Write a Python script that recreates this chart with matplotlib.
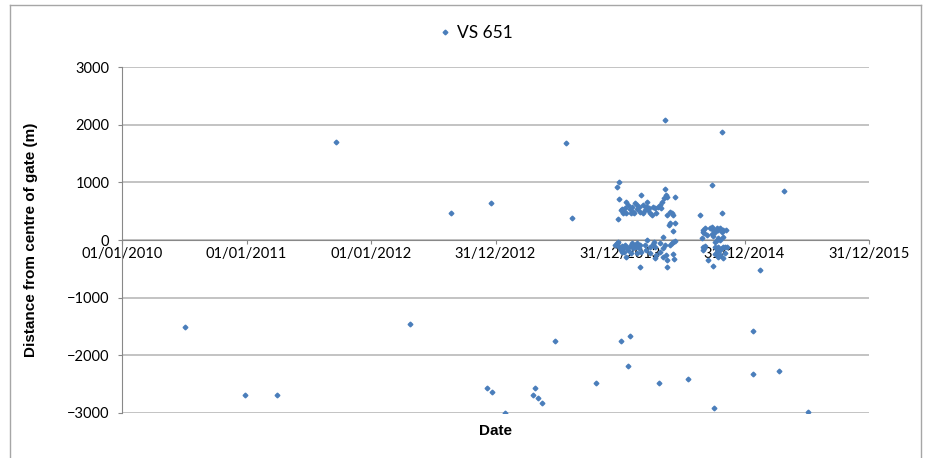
import datetime as dt
import numpy as np
import matplotlib.pyplot as plt
from matplotlib.lines import Line2D
from matplotlib.ticker import FuncFormatter, MultipleLocator

# dates are Excel serial day numbers (40179 = 01/01/2010)
scatter_day = [40363, 40540, 40634, 40806, 41023, 41144, 41250, 41263, 41261, 41301,
               41385, 41389, 41400, 41410, 41447, 41482, 41499, 41568, 41641, 41668,
               41662, 41753, 41772, 41838, 41916, 41938, 42028, 42028, 42049, 42105,
               42120, 42190]
scatter_dist = [-1510, -2690, -2690, 1700, -1450, 470, -2560, -2630, 640, -3000,
                -2690, -2560, -2745, -2820, -1750, 1675, 375, -2475, -1750, -1670,
                -2185, -2475, 2075, -2415, -2915, 1865, -2320, -1585, -525, -2265,
                850, -2975]

upper_day = [41636, 41631, 41636, 41634, 41658, 41663, 41646, 41649, 41654, 41668,
             41673, 41678, 41683, 41688, 41690, 41695, 41698, 41702, 41707, 41712,
             41717, 41719, 41722, 41727, 41732, 41737, 41741, 41746, 41751, 41756,
             41759, 41763, 41768, 41772, 41774, 41776, 41778, 41785, 41790, 41795,
             41799, 41801, 41785, 41783, 41793, 41766, 41671, 41647, 41643, 41658,
             41681, 41705, 41715, 41725]
upper_dist = [1000, 913, 705, 358, 664, 607, 532, 491, 549, 532,
              578, 491, 636, 607, 532, 578, 491, 780, 607, 520,
              664, 566, 520, 462, 433, 578, 549, 462, 578, 607,
              549, 664, 722, 878, 780, 751, 433, 491, 462, 433,
              751, 300, 289, 260, 162, 58, 474, 474, 520, 462,
              462, 462, 578, 549]

lower_day = [41624, 41629, 41634, 41637, 41641, 41644, 41649, 41644, 41654, 41658,
             41663, 41668, 41673, 41678, 41683, 41686, 41690, 41693, 41696, 41698,
             41699, 41702, 41712, 41715, 41727, 41737, 41740, 41741, 41746, 41741,
             41756, 41766, 41771, 41774, 41776, 41778, 41785, 41790, 41795, 41800,
             41795, 41798, 41766, 41756, 41688, 41658, 41652, 41670, 41727, 41717]
lower_dist = [-87, -58, -29, -127, -174, -104, -145, -203, -87, -127,
              -174, -104, -58, -145, -87, -127, -46, -104, -145, -87,
              -463, -203, -87, -174, -231, -70, -29, -116, -260, -318,
              -58, -145, -87, -260, -347, -463, -87, -58, -29, -18,
              -243, -335, -289, -203, -231, -289, -203, -231, -116, 0]

late_day = [41874, 41908, 41938, 41883, 41888, 41881, 41885, 41893, 41903, 41908,
            41912, 41917, 41922, 41927, 41932, 41937, 41942, 41950, 41908, 41912,
            41922, 41917, 41927, 41942, 41932, 41880, 41883, 41881, 41885, 41888,
            41917, 41922, 41927, 41932, 41937, 41942, 41947, 41952, 41922, 41917,
            41927, 41932, 41947, 41912, 41942, 41898]
late_dist = [428, 953, 474, 173, 202, 144, 115, 86, 202, 231,
             173, 144, 202, 173, 202, 144, 173, 173, 104, 69,
             0, -29, 29, 58, 0, 29, -127, -174, -145, -104,
             -127, -162, -127, -174, -145, -116, -127, -127, -203, -243,
             -289, -260, -231, -451, -318, -347]

day = np.array(scatter_day + upper_day + lower_day + late_day)
dist = np.array(scatter_dist + upper_dist + lower_dist + late_dist)

base = dt.date(1899, 12, 30)


def serial_to_label(v, pos):
    return (base + dt.timedelta(days=int(round(v)))).strftime('%d/%m/%Y')


fig = plt.figure(figsize=(9.28, 4.58), dpi=100)
ax = fig.add_axes([122/928, 1-413/458, (869-122)/928, (413-67)/458])

ax.plot(day, dist, 'D', color='#4A7EBB', ms=2.4, mec='#4A7EBB', label='VS 651', zorder=3)

ax.set_xlim(40179, 40179 + 365*6)
ax.set_ylim(-3000, 3000)
ax.xaxis.set_major_locator(MultipleLocator(365, offset=40179 % 365))
ax.xaxis.set_major_formatter(FuncFormatter(serial_to_label))
ax.yaxis.set_major_locator(MultipleLocator(1000))

ax.grid(axis='y', color='#B3B3B3', lw=1.1)
ax.set_axisbelow(True)
for s in ['top', 'right']:
    ax.spines[s].set_visible(False)
ax.spines['bottom'].set_position(('data', 0))
ax.spines['bottom'].set_color('#888888')
ax.spines['left'].set_color('#888888')

ax.tick_params(axis='x', direction='out', length=3, color='#888888', pad=2,
               labelsize=10.5, labelfontfamily='Lato')
ax.tick_params(axis='y', direction='out', length=3, color='#888888', pad=6,
               labelsize=10.5, labelfontfamily='Lato')

ax.set_ylabel('Distance from centre of gate (m)', fontsize=11, fontweight='bold',
              family='Liberation Sans', labelpad=21)
fig.text(495/928, 1-431/458, 'Date', ha='center', va='center', fontsize=11,
         fontweight='bold', family='Liberation Sans')

fig.legend(loc='center', bbox_to_anchor=(476/928, 1-33/458), frameon=False,
           handlelength=0.6, handletextpad=0.4, prop={'family': 'Lato', 'size': 12.5})

# chart area border
border = dict(color='#A6A6A6', lw=1.0, transform=fig.transFigure)
fig.add_artist(Line2D([10/928, 10/928], [0, 1-5/458], **border))
fig.add_artist(Line2D([10/928, 921/928], [1-5/458, 1-5/458], **border))
fig.add_artist(Line2D([921/928, 921/928], [0, 1-5/458], **border))

fig.savefig('out.png', dpi=100)
